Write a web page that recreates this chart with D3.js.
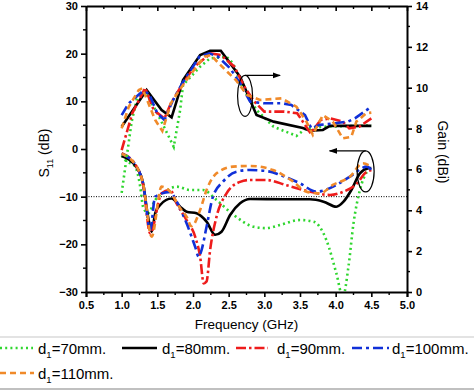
<!DOCTYPE html>
<html><head><meta charset="utf-8">
<script src="https://cdn.jsdelivr.net/npm/d3@7"></script>
<style>
body{margin:0;background:#fff;}
svg{display:block;font-family:Arial,"Liberation Sans",sans-serif;}
</style></head>
<body>
<svg id="c" width="474" height="390"></svg>
<script>
// ---- data ----
const seriesNames = ["d1=70mm.","d1=80mm.","d1=90mm.","d1=100mm.","d1=110mm."];
const seriesColors = ["#2fd62f","#000000","#ee1c1c","#1030d8","#f08a2a"];
const xTicks = [0.5,1.0,1.5,2.0,2.5,3.0,3.5,4.0,4.5,5.0];
const s11Ticks = [-30,-20,-10,0,10,20,30];
const gainTicks = [0,2,4,6,8,10,12,14];

// Gain (right axis, dBi)
const gainFreq70 = [1.0,1.14,1.21,1.31,1.34,1.50,1.73,1.82,1.86,2.10,2.24,2.47,2.56,2.70,2.89,3.13,3.45,3.59,3.90,4.5];
const gain70 = [4.85,8.34,9.40,9.81,9.73,8.75,7.11,8.91,10.13,11.03,11.44,11.52,11.20,9.97,8.91,8.09,7.64,8.03,8.10,8.15];
const gainFreq80 = [1.0,1.35,1.56,1.70,1.79,1.86,2.10,2.24,2.39,2.66,2.89,3.13,3.54,3.64,3.82,3.92,4.5];
const gain80 = [8.09,9.89,8.91,8.55,9.56,10.38,11.60,11.81,11.81,10.54,8.66,8.34,8.03,7.90,7.93,8.13,8.13];
const gainFreq90 = [1.0,1.15,1.33,1.45,1.60,1.69,1.83,2.02,2.25,2.39,2.58,2.72,2.86,3.0,3.28,3.46,3.65,3.79,3.93,4.10,4.19,4.33,4.5];
const gain90 = [6.95,8.76,9.99,8.9,8.50,9.24,10.05,11.03,11.68,11.60,11.03,10.05,9.32,8.83,8.83,8.75,7.77,8.42,8.50,8.34,8.01,8.09,8.50];
const gainFreq100 = [1.0,1.10,1.29,1.38,1.50,1.60,1.71,1.85,2.09,2.23,2.35,2.52,2.66,2.80,2.99,3.25,3.38,3.57,3.66,3.78,3.99,4.17,4.27,4.5];
const gain100 = [8.66,9.24,9.81,9.73,8.75,8.42,9.32,10.22,11.52,11.68,11.52,10.95,10.22,9.32,9.24,9.24,9.15,8.66,8.01,8.18,8.26,8.34,8.50,9.07];
const gainFreq110 = [1.0,1.10,1.24,1.29,1.47,1.57,1.69,1.81,1.98,2.16,2.25,2.34,2.48,2.60,2.76,2.94,3.24,3.45,3.59,3.68,3.82,3.96,4.10,4.22,4.29,4.43,4.5];
const gain110 = [8.01,9.07,9.89,9.97,8.42,7.88,9.24,9.89,10.71,11.52,11.60,11.27,10.78,10.38,9.64,9.40,9.48,9.07,8.34,7.69,8.66,8.34,7.52,7.60,8.34,8.75,8.78];

// S11 (left axis, dB)
const s11Freq70 = [1.0,1.05,1.19,1.26,1.30,1.37,1.47,1.58,1.77,1.96,2.14,2.33,2.57,2.85,3.03,3.22,3.50,3.69,3.87,4.01,4.10,4.18,4.25,4.34,4.44,4.5];
const s1170 = [-1.3,-2.3,-3.7,-7.9,-12.1,-13.5,-10.7,-9.3,-7.9,-8.6,-8.6,-10.7,-13.85,-16.3,-16.6,-15.95,-14.9,-15.25,-19.1,-26.1,-31,-24.6,-15.6,-8.6,-4.75,-4.05];
const s11Freq80 = [1.0,1.21,1.30,1.37,1.42,1.47,1.54,1.70,1.82,1.91,2.05,2.19,2.31,2.40,2.52,2.66,2.80,3.27,3.64,3.83,4.01,4.11,4.22,4.34,4.46,4.5];
const s1180 = [-1.5,-3.9,-7.2,-14.2,-17.4,-13.5,-11.75,-10.4,-12.1,-13.15,-13.5,-15.25,-18.0,-17.35,-13.85,-11.4,-10.5,-10.55,-10.55,-11.05,-12.1,-11.05,-8.6,-5.1,-4.05,-4.0];
const s11Freq90 = [1.0,1.21,1.30,1.40,1.56,1.68,1.77,1.91,2.03,2.10,2.15,2.19,2.24,2.33,2.47,2.66,2.80,3.03,3.31,3.64,3.92,4.11,4.30,4.41,4.5];
const s1190 = [-0.9,-3.7,-7.5,-17.7,-9.3,-8.6,-11.4,-14.9,-18.4,-22.6,-28.2,-27.8,-21.2,-14.2,-9.3,-6.9,-6.5,-6.5,-7.6,-8.95,-9.65,-8.95,-7.2,-5.1,-4.4];
const s11Freq100 = [1.0,1.21,1.30,1.40,1.47,1.68,1.77,1.91,2.03,2.08,2.12,2.19,2.28,2.42,2.61,2.80,3.08,3.22,3.50,3.73,4.01,4.20,4.44,4.5];
const s11100 = [-1.0,-3.7,-7.2,-17.0,-10.0,-9.0,-11.0,-15.6,-20.5,-22.6,-21.2,-16.3,-10.0,-6.85,-4.75,-4.4,-4.75,-5.45,-7.2,-8.95,-7.55,-5.8,-3.7,-4.4];
const s11Freq110 = [1.0,1.21,1.30,1.42,1.56,1.68,1.82,1.91,1.98,2.10,2.19,2.33,2.56,2.80,3.12,3.40,3.59,3.78,3.96,4.20,4.38,4.5];
const s11110 = [-1.0,-3.7,-7.2,-18.4,-7.9,-8.95,-12.45,-14.2,-16.2,-12.8,-8.6,-5.1,-3.7,-3.55,-4.4,-6.8,-8.95,-9.3,-7.55,-5.8,-3.0,-3.7];

const gainF = [gainFreq70,gainFreq80,gainFreq90,gainFreq100,gainFreq110];
const gainV = [gain70,gain80,gain90,gain100,gain110];
const s11F = [s11Freq70,s11Freq80,s11Freq90,s11Freq100,s11Freq110];
const s11V = [s1170,s1180,s1190,s11100,s11110];

// ---- layout ----
const L=86,R=407,T=6,B=292;
const svg = d3.select("#c");
const x = d3.scaleLinear().domain([0.5,5]).range([L,R]);
const yS = d3.scaleLinear().domain([-30,30]).range([B,T]);
const yG = d3.scaleLinear().domain([0,14]).range([B,T]);

const dashes = ["2,3.2",null,"10,3,2.5,3","10,4,3,4","6,4"];
const widths = [2.6,2.6,2.6,2.6,2.6];

svg.append("defs").append("clipPath").attr("id","clip")
  .append("rect").attr("x",L).attr("y",T).attr("width",R-L).attr("height",B-T);
const defs = svg.select("defs");
defs.append("marker").attr("id","ah").attr("viewBox","0 0 10 10").attr("refX",9).attr("refY",5)
  .attr("markerWidth",7).attr("markerHeight",7).attr("orient","auto-start-reverse")
  .append("path").attr("d","M0,1.5 L10,5 L0,8.5 Z").attr("fill","#000");

// -10 dB reference line
svg.append("line").attr("x1",L).attr("x2",R).attr("y1",yS(-10)).attr("y2",yS(-10))
  .attr("stroke","#000").attr("stroke-width",1).attr("stroke-dasharray","1,1.5");

const plot = svg.append("g").attr("clip-path","url(#clip)");
const lineG = d3.line().x(d=>x(d[0])).y(d=>yG(d[1]));
const lineS = d3.line().x(d=>x(d[0])).y(d=>yS(d[1])).curve(d3.curveMonotoneX);

for(let i=0;i<5;i++){
  plot.append("path").datum(s11F[i].map((f,j)=>[f,s11V[i][j]]))
    .attr("d",lineS).attr("fill","none").attr("stroke",seriesColors[i])
    .attr("stroke-width",widths[i]).attr("stroke-dasharray",dashes[i]);
}
for(let i=0;i<5;i++){
  plot.append("path").datum(gainF[i].map((f,j)=>[f,gainV[i][j]]))
    .attr("d",lineG).attr("fill","none").attr("stroke",seriesColors[i])
    .attr("stroke-width",widths[i]).attr("stroke-dasharray",dashes[i]);
}

// ellipses + arrows
const e1 = {cx:x(2.73), cy:yG(9.6)};
svg.append("ellipse").attr("cx",e1.cx).attr("cy",e1.cy).attr("rx",7.5).attr("ry",20.5)
  .attr("fill","none").attr("stroke","#000").attr("stroke-width",1.2);
svg.append("line").attr("x1",e1.cx).attr("y1",e1.cy-20.5).attr("x2",e1.cx+35).attr("y2",e1.cy-20.5)
  .attr("stroke","#000").attr("stroke-width",1.2).attr("marker-end","url(#ah)");
const e2 = {cx:x(4.42), cy:yS(-4.7)};
svg.append("ellipse").attr("cx",e2.cx).attr("cy",e2.cy).attr("rx",8.5).attr("ry",20.5)
  .attr("fill","none").attr("stroke","#000").attr("stroke-width",1.2);
svg.append("line").attr("x1",e2.cx).attr("y1",e2.cy-20.5).attr("x2",e2.cx-36).attr("y2",e2.cy-20.5)
  .attr("stroke","#000").attr("stroke-width",1.2).attr("marker-end","url(#ah)");

// axes
function styleAxis(g){
  g.selectAll("path.domain").attr("stroke","#000").attr("stroke-width",2);
  g.selectAll(".tick line").attr("stroke","#000").attr("stroke-width",1.6);
  g.selectAll(".tick text").attr("font-size","11px").attr("font-weight","bold").attr("fill","#000")
    .attr("font-family","Arial, 'Liberation Sans', sans-serif");
}
function minor(g, scale, vals, orient, len){
  vals.forEach(v=>{
    const p = scale(v);
    if(orient==="left") g.append("line").attr("x1",L).attr("x2",L-len).attr("y1",p).attr("y2",p);
    if(orient==="right") g.append("line").attr("x1",R).attr("x2",R+len).attr("y1",p).attr("y2",p);
    if(orient==="bottom") g.append("line").attr("x1",p).attr("x2",p).attr("y1",B).attr("y2",B+len);
    if(orient==="top") g.append("line").attr("x1",p).attr("x2",p).attr("y1",T).attr("y2",T+len);
  });
  g.selectAll("line").attr("stroke","#000").attr("stroke-width",1.4);
}
const fmt1 = d3.format(".1f");
const gb = svg.append("g").attr("transform",`translate(0,${B})`)
  .call(d3.axisBottom(x).tickValues(xTicks).tickFormat(fmt1).tickSize(5).tickPadding(4));
styleAxis(gb);
const gt = svg.append("g").attr("transform",`translate(0,${T})`)
  .call(d3.axisBottom(x).tickValues(xTicks).tickFormat("").tickSize(5).tickSizeOuter(0));
styleAxis(gt);
const gl = svg.append("g").attr("transform",`translate(${L},0)`)
  .call(d3.axisLeft(yS).tickValues(s11Ticks).tickSize(5).tickPadding(3).tickSizeOuter(0));
styleAxis(gl);
const gr = svg.append("g").attr("transform",`translate(${R},0)`)
  .call(d3.axisRight(yG).tickValues(gainTicks).tickSize(5).tickPadding(4).tickSizeOuter(0));
styleAxis(gr);
minor(svg.append("g"), x, xTicks.slice(0,-1).map(v=>v+0.25), "bottom", 3);
minor(svg.append("g"), x, xTicks.slice(0,-1).map(v=>v+0.25), "top", 3);
minor(svg.append("g"), yS, s11Ticks.slice(0,-1).map(v=>v+5), "left", 3);
minor(svg.append("g"), yG, gainTicks.slice(0,-1).map(v=>v+1), "right", 3);

// axis titles
svg.append("text").attr("x",(L+R)/2).attr("y",329).attr("text-anchor","middle")
  .attr("font-size","13.5px").text("Frequency (GHz)");
const st = svg.append("text").attr("transform",`translate(49,${(T+B)/2+4}) rotate(-90)`)
  .attr("text-anchor","middle").attr("font-size","14px");
st.append("tspan").text("S");
st.append("tspan").attr("font-size","9px").attr("dy",4).text("11");
st.append("tspan").attr("dy",-4).text(" (dB)");
svg.append("text").attr("transform",`translate(438,${(T+B)/2+3}) rotate(90)`)
  .attr("text-anchor","middle").attr("font-size","14px").text("Gain (dBi)");

// legend
svg.append("line").attr("x1",0).attr("x2",474).attr("y1",337).attr("y2",337).attr("stroke","#c8c8c8").attr("stroke-width",1.2);
svg.append("line").attr("x1",0).attr("x2",474).attr("y1",389).attr("y2",389).attr("stroke","#c0c0c0").attr("stroke-width",2);
const legPos = [[0,33,38,348],[122,157,162,348],[236,268,277,348],[352,389,392,348],[0,34,38,373]];
seriesNames.forEach((nm,i)=>{
  const [x0,x1,tx,ly] = legPos[i];
  svg.append("line").attr("x1",x0).attr("x2",x1).attr("y1",ly).attr("y2",ly)
    .attr("stroke",seriesColors[i]).attr("stroke-width",widths[i]).attr("stroke-dasharray",dashes[i]);
  const t = svg.append("text").attr("x",tx).attr("y",ly+5.5).attr("font-size","15px");
  t.append("tspan").text(nm.slice(0,1));
  t.append("tspan").attr("font-size","9.5px").attr("dy",4).text(nm.slice(1,2));
  t.append("tspan").attr("dy",-4).text(nm.slice(2));
});
</script>
</body></html>
